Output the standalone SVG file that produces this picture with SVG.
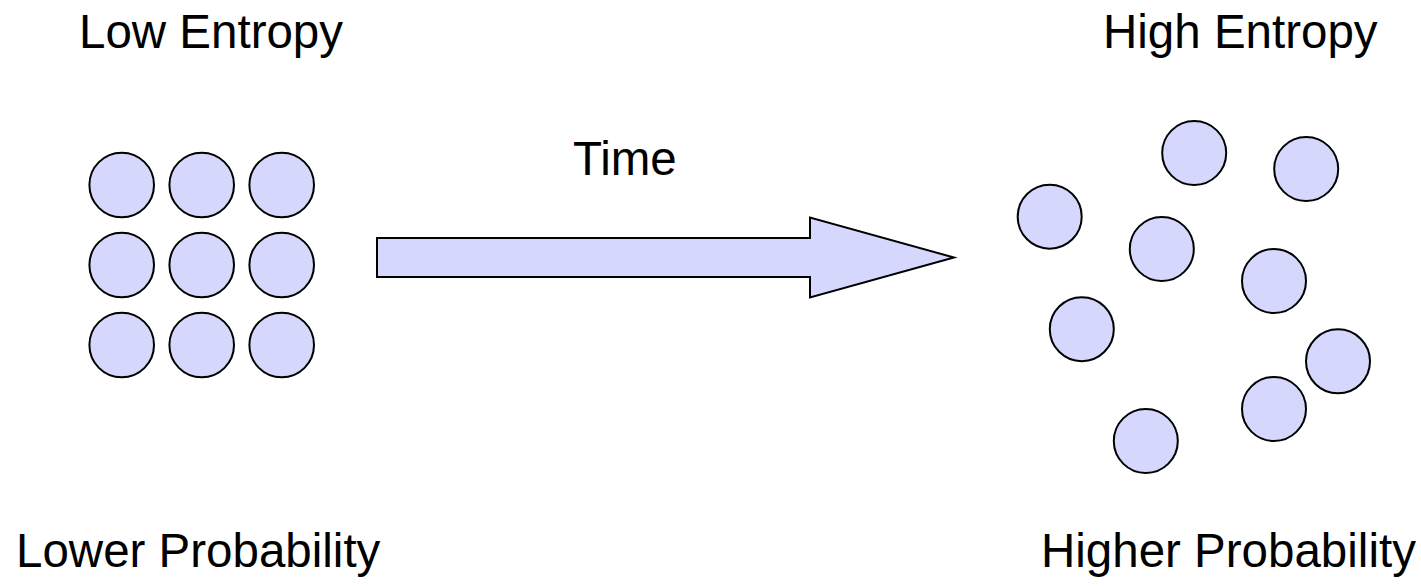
<svg xmlns="http://www.w3.org/2000/svg" width="1421" height="586" viewBox="0 0 1421 586">
<style>
.p{fill:#D5D7FC;stroke:#000;stroke-width:2}
.t{font-family:"Liberation Sans",Arial,sans-serif;font-size:47.5px;fill:#000}
</style>
<rect width="1421" height="586" fill="#fff"/>
<g id="label-low-entropy"><text class="t" x="79" y="48">Low Entropy</text></g>
<g id="label-high-entropy"><text class="t" x="1103" y="48">High Entropy</text></g>
<g id="label-time"><text class="t" x="573" y="175">Time</text></g>
<g id="label-lower-probability"><text class="t" x="16" y="567">Lower Probability</text></g>
<g id="label-higher-probability"><text class="t" x="1041" y="567">Higher Probability</text></g>
<g id="ordered">
<circle class="p" cx="121.7" cy="185" r="32.3"/>
<circle class="p" cx="201.7" cy="185" r="32.3"/>
<circle class="p" cx="281.7" cy="185" r="32.3"/>
<circle class="p" cx="121.7" cy="265" r="32.3"/>
<circle class="p" cx="201.7" cy="265" r="32.3"/>
<circle class="p" cx="281.7" cy="265" r="32.3"/>
<circle class="p" cx="121.7" cy="345" r="32.3"/>
<circle class="p" cx="201.7" cy="345" r="32.3"/>
<circle class="p" cx="281.7" cy="345" r="32.3"/>
</g>
<g id="connectors">
<path id="time-arrow" class="p" d="M377,238 L810,238 L810,217.5 L954,257.5 L810,297.5 L810,277 L377,277 Z"/>
</g>
<g id="disordered">
<circle class="p" cx="1194.2" cy="153" r="32"/>
<circle class="p" cx="1306.2" cy="169" r="32"/>
<circle class="p" cx="1049.7" cy="216.7" r="32"/>
<circle class="p" cx="1161.8" cy="249" r="32"/>
<circle class="p" cx="1274" cy="281" r="32"/>
<circle class="p" cx="1081.8" cy="329.2" r="32"/>
<circle class="p" cx="1338" cy="361.3" r="32"/>
<circle class="p" cx="1274" cy="409" r="32"/>
<circle class="p" cx="1145.8" cy="441" r="32"/>
</g>
</svg>
